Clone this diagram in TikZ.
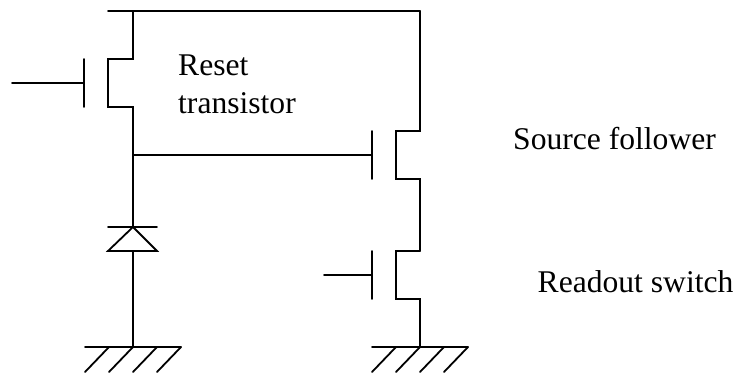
\documentclass[tikz,border=0pt]{standalone}
\usepackage{fontspec}
\setmainfont{Liberation Serif}
\usepackage{tikz}
\usetikzlibrary{calc}
\tikzset{
  wire/.style={line width=1.8pt,line cap=round,line join=miter},
  caption/.style={anchor=base west,inner sep=0pt,font=\fontsize{31.6}{38}\selectfont}
}

\begin{document}
\begin{tikzpicture}
  [
    x=1pt,
    y=-1pt
  ]
    \path[use as bounding box] (0,0) rectangle (737,375);
    % rail and junctions
    \coordinate (railL) at (108,11);
    \coordinate (railR) at (420,11);
    \coordinate (resetD) at (133,11);
    \coordinate (sense) at (133,155);
    \coordinate (cathode) at (133,227);
    \coordinate (anode) at (133,251);
    \coordinate (gndL) at (133,347);
    \coordinate (gndR) at (420,347);
    % reset transistor
    \coordinate (resetG) at (84,83);
    \coordinate (resetIn) at (12,83);
    \draw[wire] (railL) -- (railR);
    \draw[wire] (resetD) -- (133,59) -- (108,59) -- (108,107) -- (133,107) -- (sense);
    \draw[wire] (84,59) -- (84,107);
    \draw[wire] (resetIn) -- (resetG);
    % source follower
    \coordinate (followG) at (372,155);
    \draw[wire] (sense) -- (followG);
    \draw[wire] (372,131) -- (372,179);
    \draw[wire] (railR) -- (420,131) -- (396,131) -- (396,179) -- (420,179) -- (420,251);
    % readout switch
    \coordinate (switchG) at (372,275);
    \coordinate (switchIn) at (324,275);
    \draw[wire] (372,251) -- (372,299);
    \draw[wire] (switchIn) -- (switchG);
    \draw[wire] (420,251) -- (396,251) -- (396,299) -- (420,299) -- (gndR);
    % photodiode
    \draw[wire] (sense) -- (cathode);
    \draw[wire] (108,227) -- (157,227);
    \draw[wire] (cathode) -- (157,251) -- (108,251) -- cycle;
    \draw[wire] (anode) -- (gndL);
    % grounds
    \foreach \gnd in {gndL,gndR}
    {
      \draw[wire] ($(\gnd)+(-48,0)$) -- ($(\gnd)+(48,0)$);
      \foreach \hx in {-24,0,24,48}
        \draw[wire] ($(\gnd)+(\hx,0)$) -- ($(\gnd)+(\hx-24,25)$);
    }
    \node[caption,align=left] (resetlabel) at (178,113) {Reset\\transistor};
    \node[caption] (followlabel) at (513,149) {Source follower};
    \node[caption] (switchlabel) at (537.5,292) {Readout switch};
  \end{tikzpicture}
\end{document}
